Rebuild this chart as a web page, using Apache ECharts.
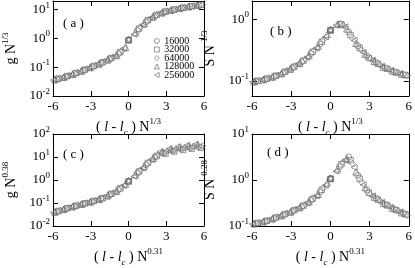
<!DOCTYPE html>
<html><head><meta charset="utf-8">
<script src="https://cdn.jsdelivr.net/npm/echarts@6/dist/echarts.min.js"></script>
<style>html,body{margin:0;padding:0;background:#fff}#c{width:415px;height:268px}</style>
</head><body><div id="c"></div>
<script>
// ---- data ----
const seriesNames = ['16000', '32000', '64000', '128000', '256000'];
const xTicks = [-6, -3, 0, 3, 6];
const panelLabels = ['( a )', '( b )', '( c )', '( d )'];

// scaled abscissa (l - l_c) N^x for each system size
const x16000  = [-5.7, -5.0, -4.3, -3.6, -2.9, -2.2, -1.5, -0.8, 0, 0.7, 1.4, 2.1, 2.8, 3.5, 4.2, 4.9, 5.6];
const x32000  = [-5.56, -4.86, -4.16, -3.46, -2.76, -2.06, -1.36, -0.66, 0, 0.84, 1.54, 2.24, 2.94, 3.64, 4.34, 5.04, 5.74];
const x64000  = [-5.42, -4.72, -4.02, -3.32, -2.62, -1.92, -1.22, -0.52, 0, 0.98, 1.68, 2.38, 3.08, 3.78, 4.48, 5.18, 5.88];
const x128000 = [-5.84, -5.14, -4.44, -3.74, -3.04, -2.34, -1.64, -0.94, -0.24, 0, 0.56, 1.26, 1.96, 2.66, 3.36, 4.06, 4.76, 5.46];
const x256000 = [-5.98, -5.28, -4.58, -3.88, -3.18, -2.48, -1.78, -1.08, -0.38, 0, 0.42, 1.12, 1.82, 2.52, 3.22, 3.92, 4.62, 5.32];

// (a) g N^{1/3}
const gA16000  = [0.039, 0.047, 0.060, 0.078, 0.104, 0.139, 0.195, 0.296, 0.89, 1.89, 3.8, 6.2, 8.2, 9.8, 11.4, 12.9, 14.3];
const gA32000  = [0.040, 0.049, 0.0625, 0.0826, 0.110, 0.148, 0.209, 0.333, 0.87, 2.2, 4.3, 6.6, 8.6, 10.1, 11.7, 13.3, 14.6];
const gA64000  = [0.0417, 0.0515, 0.0656, 0.0875, 0.117, 0.158, 0.225, 0.374, 0.91, 2.57, 4.7, 7.0, 8.9, 10.4, 12.0, 13.5, 14.9];
const gA128000 = [0.037, 0.045, 0.0568, 0.0736, 0.0984, 0.1315, 0.1816, 0.264, 0.50, 0.90, 1.62, 3.34, 5.7, 7.8, 9.5, 11.1, 12.6, 14.1];
const gA256000 = [0.0356, 0.0433, 0.054, 0.0695, 0.093, 0.124, 0.169, 0.241, 0.45, 0.92, 1.39, 2.94, 5.2, 7.5, 9.2, 10.8, 12.3, 13.8];

// (b) S N^{-1/3}
const sB16000  = [0.099, 0.107, 0.119, 0.137, 0.164, 0.205, 0.279, 0.40, 0.676, 0.845, 0.627, 0.375, 0.257, 0.20, 0.163, 0.141, 0.127];
const sB32000  = [0.1005, 0.109, 0.122, 0.142, 0.171, 0.215, 0.298, 0.435, 0.67, 0.84, 0.559, 0.345, 0.237, 0.19, 0.158, 0.137, 0.125];
const sB64000  = [0.102, 0.112, 0.124, 0.147, 0.179, 0.227, 0.319, 0.472, 0.68, 0.80, 0.504, 0.317, 0.229, 0.182, 0.154, 0.135, 0.122];
const sB128000 = [0.097, 0.105, 0.116, 0.132, 0.157, 0.196, 0.261, 0.368, 0.573, 0.68, 0.835, 0.705, 0.41, 0.274, 0.209, 0.168, 0.145, 0.129];
const sB256000 = [0.096, 0.104, 0.114, 0.128, 0.152, 0.187, 0.243, 0.341, 0.52, 0.67, 0.805, 0.762, 0.455, 0.292, 0.218, 0.174, 0.149, 0.132];

// (c) g N^{0.38}
const gC16000  = [0.0428, 0.0562, 0.0728, 0.0925, 0.117, 0.153, 0.229, 0.38, 0.89, 2.0, 4.6, 10.0, 14.7, 18.6, 22.2, 25.2, 27.9];
const gC32000  = [0.0452, 0.0592, 0.0766, 0.0968, 0.123, 0.162, 0.251, 0.432, 0.87, 2.34, 5.5, 11.1, 14.0, 17.3, 20.3, 23.0, 25.4];
const gC64000  = [0.0478, 0.0624, 0.0807, 0.101, 0.130, 0.175, 0.274, 0.492, 0.90, 2.75, 6.46, 12.4, 17.8, 21.6, 25.0, 28.2, 31.1];
const gC128000 = [0.0405, 0.0532, 0.0692, 0.0884, 0.111, 0.145, 0.209, 0.334, 0.676, 0.92, 1.70, 3.89, 8.9, 16.8, 22.0, 26.6, 30.3, 33.7];
const gC256000 = [0.0383, 0.0504, 0.0657, 0.0845, 0.106, 0.137, 0.191, 0.30, 0.575, 0.93, 1.45, 3.27, 7.6, 17.1, 23.2, 28.2, 32.4, 36.2];

// (d) S N^{-0.28}
const sD16000  = [0.114, 0.126, 0.148, 0.175, 0.211, 0.264, 0.363, 0.547, 1.07, 1.96, 3.16, 1.26, 0.603, 0.398, 0.295, 0.232, 0.187];
const sD32000  = [0.1165, 0.130, 0.153, 0.182, 0.221, 0.277, 0.39, 0.611, 1.05, 2.2, 2.69, 1.07, 0.53, 0.373, 0.281, 0.221, 0.179];
const sD64000  = [0.119, 0.134, 0.158, 0.188, 0.231, 0.294, 0.419, 0.681, 1.08, 2.47, 2.29, 0.912, 0.483, 0.35, 0.268, 0.212, 0.172];
const sD128000 = [0.112, 0.124, 0.143, 0.169, 0.202, 0.252, 0.338, 0.49, 0.87, 1.1, 1.75, 2.92, 1.50, 0.686, 0.425, 0.31, 0.243, 0.195];
const sD256000 = [0.11, 0.121, 0.139, 0.163, 0.195, 0.242, 0.315, 0.449, 0.769, 1.08, 1.55, 2.69, 1.86, 0.78, 0.453, 0.328, 0.255, 0.203];

// ---- chart ----
const FONT = 'Liberation Serif';
const xs = [x16000, x32000, x64000, x128000, x256000];
const panelY = [
  [gA16000, gA32000, gA64000, gA128000, gA256000],
  [sB16000, sB32000, sB64000, sB128000, sB256000],
  [gC16000, gC32000, gC64000, gC128000, gC256000],
  [sD16000, sD32000, sD64000, sD128000, sD256000]
];
const yRanges = [[0.01, 20], [0.057, 2], [0.01, 100], [0.1, 10]];
const grids = [
  {left: 46, top: 1, width: 158, height: 95},
  {left: 252, top: 1, width: 157, height: 95},
  {left: 46, top: 134, width: 158, height: 96},
  {left: 252, top: 134, width: 157, height: 96}
];
const xNames = [
  '( {i|l} - {i|l}{sub|c} ) N{sup|1/3}',
  '( {i|l} - {i|l}{sub|c} ) N{sup|1/3}',
  '( {i|l} - {i|l}{sub|c} ) N{sup|0.31}',
  '( {i|l} - {i|l}{sub|c} ) N{sup|0.31}'
];
const yNames = ['g N{sup|1/3}', 'S N{sup|-1/3}', 'g N{sup|0.38}', 'S N{sup|-0.28}'];
const leftTri = 'path://M0,5L9,0L9,10Z';
const symbols = ['circle', 'rect', 'diamond', 'triangle', leftTri];
const symbolSizes = [6, 5.5, 6.5, 6.5, 6];
const MARK = '#6a6a6a';

const nameRich = {
  i: {fontStyle: 'italic', fontSize: 14, fontFamily: FONT, lineHeight: 20, color: '#000'},
  sub: {fontStyle: 'italic', fontSize: 9, fontFamily: FONT, verticalAlign: 'bottom', lineHeight: 9, color: '#000'},
  sup: {fontSize: 9, fontFamily: FONT, verticalAlign: 'top', lineHeight: 9, color: '#000'}
};
const labelRich = {
  b: {fontSize: 13, fontFamily: FONT, lineHeight: 18, color: '#000'},
  s: {fontSize: 9, fontFamily: FONT, verticalAlign: 'top', lineHeight: 9, color: '#000'}
};
function yFmt(v) {
  const l = Math.log10(v);
  const e = Math.round(l);
  if (Math.abs(l - e) > 1e-6) return '';
  return '{b|10}{s|' + e + '}';
}
const tickStyle = {inside: true, length: 5, lineStyle: {color: '#000', width: 1}};
const lineStyle = {onZero: false, lineStyle: {color: '#000', width: 1}};

const xAxis = [], yAxis = [], series = [];
grids.forEach((g, i) => {
  xAxis.push({
    gridIndex: i, type: 'value', min: xTicks[0], max: xTicks[xTicks.length - 1], interval: 3,
    axisLine: lineStyle, axisTick: tickStyle, splitLine: {show: false},
    axisLabel: {fontFamily: FONT, fontSize: 13, color: '#000', margin: 4},
    name: xNames[i], nameLocation: 'middle', nameGap: 21,
    nameTextStyle: {fontFamily: FONT, fontSize: 14, color: '#000', lineHeight: 20, rich: nameRich}
  });
  xAxis.push({
    gridIndex: i, type: 'value', position: 'top', min: -6, max: 6, interval: 3,
    axisLine: lineStyle, axisTick: tickStyle, splitLine: {show: false}, axisLabel: {show: false}
  });
  yAxis.push({
    gridIndex: i, type: 'log', logBase: 10, min: yRanges[i][0], max: yRanges[i][1],
    axisLine: lineStyle, axisTick: tickStyle, splitLine: {show: false}, minorTick: {show: false},
    axisLabel: {formatter: yFmt, rich: labelRich, margin: 3, color: '#000'},
    name: yNames[i], nameLocation: 'middle', nameRotate: 90, nameGap: 32,
    nameTextStyle: {fontFamily: FONT, fontSize: 14, color: '#000', lineHeight: 20, rich: nameRich}
  });
  yAxis.push({
    gridIndex: i, type: 'log', logBase: 10, position: 'right', min: yRanges[i][0], max: yRanges[i][1],
    axisLine: lineStyle, axisTick: tickStyle, splitLine: {show: false}, axisLabel: {show: false}
  });
  seriesNames.forEach((n, k) => {
    series.push({
      name: n, type: 'scatter', xAxisIndex: 2 * i, yAxisIndex: 2 * i,
      symbol: symbols[k], symbolSize: symbolSizes[k],
      itemStyle: {color: 'rgba(255,255,255,0)', borderColor: MARK, borderWidth: 0.7, opacity: 1},
      data: xs[k].map((x, j) => [x, panelY[i][k][j]]),
      animation: false
    });
  });
});

const panelPos = [[63, 17], [270, 25], [63, 148], [267, 146]];
const graphic = panelLabels.map((t, i) => ({
  type: 'text', left: panelPos[i][0], top: panelPos[i][1],
  style: {text: t, font: '13px "Liberation Serif"', fill: '#000'}
}));

const chart = echarts.init(document.getElementById('c'), null, {renderer: 'canvas'});
chart.setOption({
  backgroundColor: '#fff',
  animation: false,
  grid: grids,
  xAxis, yAxis, series, graphic,
  legend: {
    data: seriesNames.map((n, k) => ({name: n, icon: symbols[k]})),
    orient: 'vertical', left: 149, top: 31,
    itemWidth: 5, itemHeight: 5, itemGap: -1.5,
    itemStyle: {color: 'rgba(255,255,255,0)', borderColor: MARK, borderWidth: 0.7},
    textStyle: {fontFamily: FONT, fontSize: 10, color: '#000'},
    selectedMode: false
  }
});
</script></body></html>
